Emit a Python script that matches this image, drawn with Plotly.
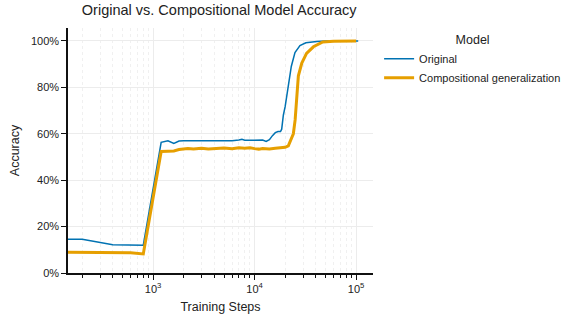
import plotly.graph_objects as go

orig_steps = [100, 200, 400, 600, 800, 1200, 1400, 1600, 1800, 2000, 2500, 3000, 3500,
              4000, 5000, 6000, 7000, 7500, 8000, 9000, 10000, 11000, 12000, 13000, 14000,
              15000, 16000, 17000, 18000, 18500, 19200, 20000, 21500, 23000, 25000, 28000,
              32000, 36000, 41000, 50000, 60000, 80000, 105000]
orig_acc = [14.5, 14.5, 12.2, 12.1, 12.0, 56.3, 57.0, 55.8, 56.9, 57.0, 57.0, 56.9, 57.1,
            57.0, 57.2, 57.0, 57.3, 57.6, 57.2, 57.3, 57.3, 57.2, 57.3, 56.7, 57.5,
            59.2, 60.5, 61.0, 61.0, 62.0, 68.0, 71.7, 80.3, 89.0, 95.0, 98.0,
            99.2, 99.5, 99.8, 100.0, 100.0, 100.0, 100.0]

comp_steps = [100, 200, 400, 600, 800, 1200, 1400, 1600, 1800, 2000, 2200, 2500, 3000,
              3500, 4000, 5000, 6000, 7000, 8000, 9000, 10000, 11000, 12000, 14000, 16000,
              18000, 20000, 21500, 22400, 24100, 25100, 26100, 27000, 29200, 32500, 38000,
              47000, 60000, 80000, 100000]
comp_acc = [9.0, 9.0, 9.0, 8.7, 8.2, 52.4, 52.5, 52.6, 53.2, 53.5, 53.7, 53.4, 53.8,
            53.5, 53.7, 53.9, 53.6, 54.0, 53.8, 54.0, 53.6, 53.4, 53.7, 53.5, 53.8,
            54.0, 54.2, 54.8, 56.5, 60.0, 66.0, 79.0, 85.0, 90.5, 94.7, 97.5,
            99.6, 99.9, 100.0, 100.0]

x_tickvals = [1e3, 1e4, 1e5]
x_ticktext = ["10<sup>3</sup>", "10<sup>4</sup>", "10<sup>5</sup>"]
x_minor = [m * d for d in (100, 1000, 10000, 100000) for m in range(2, 10)]
y_tickvals = [0, 0.2, 0.4, 0.6, 0.8, 1.0]

FONT = "Liberation Sans, Arial, sans-serif"

fig = go.Figure()
fig.add_trace(go.Scatter(x=orig_steps, y=[v / 100 for v in orig_acc], mode="lines",
                         name="Original", line=dict(color="#0072B2", width=1.5)))
fig.add_trace(go.Scatter(x=comp_steps, y=[v / 100 for v in comp_acc], mode="lines",
                         name="Compositional generalization",
                         line=dict(color="#E69F00", width=3)))

fig.update_layout(
    width=565, height=320,
    margin=dict(l=68, r=192, t=28, b=47, autoexpand=False),
    paper_bgcolor="white", plot_bgcolor="white",
    font=dict(family=FONT, size=11, color="#222"),
    title=dict(text="Original vs. Compositional Model Accuracy", x=0.388, xanchor="center",
               y=0.985, yanchor="top", font=dict(size=14.5, color="#222")),
    legend=dict(title=dict(text="Model", side="top center", font=dict(size=12.5)),
                x=1.02, xanchor="left", y=1.0, yanchor="top",
                font=dict(size=11), tracegroupgap=0, itemwidth=30),
    showlegend=True,
)
fig.update_xaxes(
    type="log", range=[2.161, 5.167],
    tickvals=x_tickvals, ticktext=x_ticktext,
    ticks="outside", ticklen=5, tickwidth=1.2, tickcolor="#111",
    showline=True, linecolor="#111", linewidth=1.5,
    showgrid=True, gridcolor="#ececec", gridwidth=1,
    zeroline=False, tickfont=dict(size=11),
    minor=dict(tickvals=x_minor, ticks="outside", ticklen=3, tickcolor="#111",
               showgrid=True, gridcolor="#f0f0f0", griddash="dot", gridwidth=1),
    title=dict(text="Training Steps", font=dict(size=12.5), standoff=8),
)
fig.update_yaxes(
    range=[0, 1.056], tickvals=y_tickvals, tickformat=".0%",
    ticks="outside", ticklen=5, tickwidth=1.2, tickcolor="#111",
    showline=True, linecolor="#111", linewidth=1.5,
    showgrid=True, gridcolor="#ececec", gridwidth=1,
    zeroline=False, tickfont=dict(size=11),
    title=dict(text="Accuracy", font=dict(size=12.5), standoff=9),
)

fig.write_html("out.html")
